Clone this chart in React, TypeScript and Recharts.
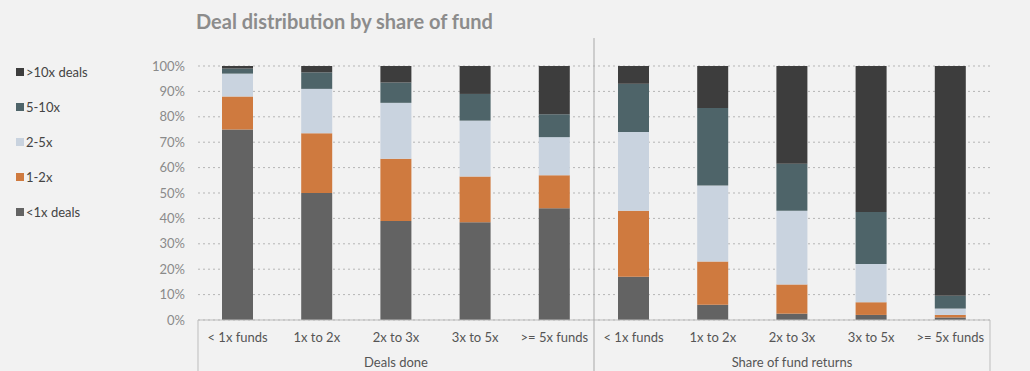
import React from 'react';
import {
  BarChart,
  Bar,
  XAxis,
  YAxis,
  CartesianGrid,
  ReferenceLine,
} from 'recharts';

const categories = [
  '< 1x funds', '1x to 2x', '2x to 3x', '3x to 5x', '>= 5x funds',
  '< 1x funds', '1x to 2x', '2x to 3x', '3x to 5x', '>= 5x funds',
];
const groups = ['Deals done', 'Share of fund returns'];

const under1x = [75, 50, 39, 38.5, 44, 17, 6, 2.5, 2, 1];
const x1to2 = [13, 23.5, 24.5, 18, 13, 26, 17, 11.5, 5, 1];
const x2to5 = [9, 17.5, 22, 22, 15, 31, 30, 29, 15, 2.5];
const x5to10 = [2, 6.5, 8, 10.5, 9, 19, 30.5, 18.5, 20.5, 5];
const over10x = [1, 2.5, 6.5, 11, 19, 7, 16.5, 38.5, 57.5, 90.5];

const yTicks = [0, 10, 20, 30, 40, 50, 60, 70, 80, 90, 100];

const series = [
  { key: 'under1x', name: '<1x deals', color: '#636363', values: under1x },
  { key: 'x1to2', name: '1-2x', color: '#cf7a3f', values: x1to2 },
  { key: 'x2to5', name: '2-5x', color: '#c9d3df', values: x2to5 },
  { key: 'x5to10', name: '5-10x', color: '#4e6469', values: x5to10 },
  { key: 'over10x', name: '>10x deals', color: '#3d3d3d', values: over10x },
];

const data = categories.map((c, i) => {
  const row: any = { idx: i, label: c };
  series.forEach((s) => {
    row[s.key] = s.values[i];
  });
  return row;
});

const font = 'Lato, "Open Sans", sans-serif';
const boxStroke = '#bdbdbd';

export default function App() {
  return (
    <div
      style={{
        position: 'absolute',
        left: 0,
        top: 0,
        width: 1030,
        height: 371,
        background: '#f2f2f2',
        fontFamily: font,
        overflow: 'hidden',
      }}
    >
      <div
        style={{
          position: 'absolute',
          left: 196,
          top: 9,
          fontSize: 20,
          fontWeight: 700,
          color: '#8c8c8c',
          whiteSpace: 'nowrap',
        }}
      >
        Deal distribution by share of fund
      </div>

      <div style={{ position: 'absolute', left: 16, top: 63 }}>
        {[...series].reverse().map((s) => (
          <div
            key={s.key}
            style={{
              display: 'flex',
              alignItems: 'center',
              height: 18,
              marginBottom: 17,
              fontSize: 13,
              color: '#444',
            }}
          >
            <span
              style={{
                display: 'inline-block',
                width: 8,
                height: 8,
                background: s.color,
                marginRight: 2,
              }}
            />
            {s.name}
          </div>
        ))}
      </div>

      <BarChart
        width={1030}
        height={371}
        data={data}
        margin={{ top: 66, right: 40, bottom: 0, left: 138 }}
        style={{ position: 'absolute', left: 0, top: 0 }}
      >
        <CartesianGrid
          vertical={false}
          stroke="#b5b5b5"
          strokeDasharray="2 3"
        />
        <XAxis
          dataKey="idx"
          height={25}
          tickLine={false}
          tickSize={0}
          tickMargin={13}
          axisLine={{ stroke: boxStroke }}
          tickFormatter={(v: number) => categories[v]}
          tick={{ fill: '#555', fontSize: 13, fontFamily: font }}
          interval={0}
        />
        <XAxis
          xAxisId="group"
          dataKey="idx"
          type="number"
          domain={[-0.5, 9.5]}
          allowDataOverflow
          ticks={[2, 7]}
          height={26}
          axisLine={false}
          tickLine={false}
          tickSize={0}
          tickMargin={13}
          tickFormatter={(v: number) => groups[v < 4.5 ? 0 : 1]}
          tick={{ fill: '#555', fontSize: 13, fontFamily: font }}
        />
        <YAxis
          width={60}
          domain={[0, 100]}
          ticks={yTicks}
          axisLine={false}
          tickLine={false}
          tickSize={0}
          tickMargin={13}
          tickFormatter={(v: number) => `${v}%`}
          tick={{ fill: '#8a8a8a', fontSize: 13, fontFamily: font }}
        />
        {series.map((s) => (
          <Bar
            key={s.key}
            dataKey={s.key}
            name={s.name}
            stackId="a"
            fill={s.color}
            barSize={31}
            isAnimationActive={false}
          />
        ))}
        <ReferenceLine
          xAxisId="group"
          segment={[{ x: -0.5, y: 0 }, { x: -0.5, y: -25 }]}
          stroke={boxStroke}
          ifOverflow="visible"
        />
        <ReferenceLine
          xAxisId="group"
          segment={[{ x: 4.5, y: 111 }, { x: 4.5, y: -25 }]}
          stroke="#a8a8a8"
          ifOverflow="visible"
        />
        <ReferenceLine
          xAxisId="group"
          segment={[{ x: 9.5, y: 0 }, { x: 9.5, y: -25 }]}
          stroke={boxStroke}
          ifOverflow="visible"
        />
      </BarChart>
    </div>
  );
}
